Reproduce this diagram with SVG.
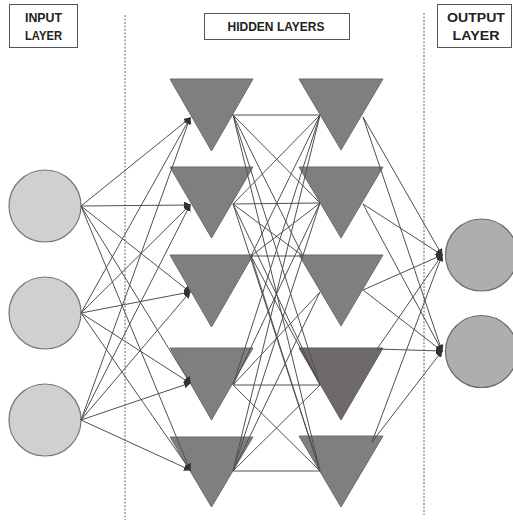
<svg xmlns="http://www.w3.org/2000/svg" width="513" height="520" viewBox="0 0 513 520">
<defs>
<style>
.box{fill:#fff;stroke:#555;stroke-width:1}
.lbl{font-family:"Liberation Sans",Arial,sans-serif;font-weight:bold;font-size:12px;fill:#222;text-anchor:middle}
.dash{stroke:#666;stroke-width:1;stroke-dasharray:2,1.5;fill:none}
.in{fill:#d1d0d0;stroke:#777;stroke-width:1.2}
.out{fill:#b0adad;stroke:#6a6a6a;stroke-width:1.2}
.tri{fill:#7f7f7f;stroke:#6c6c6c;stroke-width:1}
.tri4{fill:#6f6a6a;stroke:#5e5a5a;stroke-width:1}
.c{stroke:#505050;stroke-width:1;fill:none}
.a{stroke:#505050;stroke-width:1;fill:none;marker-end:url(#ah)}
</style>
<marker id="ah" markerUnits="userSpaceOnUse" markerWidth="7" markerHeight="7" refX="6" refY="3.5" orient="auto">
<path d="M0,0 L7,3.5 L0,7 z" fill="#333"/>
</marker>
</defs>
<rect width="513" height="520" fill="#fff"/>

<g id="labels">
<g id="input-label"><rect class="box" x="9.5" y="4.5" width="68" height="43"/><text class="lbl" x="43.5" y="22" textLength="37" lengthAdjust="spacingAndGlyphs">INPUT</text><text class="lbl" x="43.5" y="40" textLength="37" lengthAdjust="spacingAndGlyphs">LAYER</text></g>
<g id="hidden-label"><rect class="box" x="204.5" y="13.5" width="145" height="26"/><text class="lbl" x="276" y="31" textLength="97" lengthAdjust="spacingAndGlyphs">HIDDEN LAYERS</text></g>
<g id="output-label"><rect class="box" x="437.5" y="4.5" width="74" height="43"/><text class="lbl" x="476" y="22" textLength="58" lengthAdjust="spacingAndGlyphs">OUTPUT</text><text class="lbl" x="476" y="40" textLength="47" lengthAdjust="spacingAndGlyphs">LAYER</text></g>
</g>

<g id="dividers">
<line class="dash" x1="125" y1="15" x2="125" y2="520"/>
<line class="dash" x1="424" y1="13" x2="424" y2="515"/>
</g>

<g id="input-nodes">
<g id="in1"><circle class="in" cx="45" cy="206" r="36"/></g>
<g id="in2"><circle class="in" cx="45" cy="313" r="36"/></g>
<g id="in3"><circle class="in" cx="45" cy="420" r="36"/></g>
</g>

<g id="hidden1">
<g id="h1a"><polygon class="tri" points="170,79 253,79 211.5,151"/></g>
<g id="h1b"><polygon class="tri" points="170,167 253,167 211.5,238"/></g>
<g id="h1c"><polygon class="tri" points="170,255 253,255 211.5,327"/></g>
<g id="h1d"><polygon class="tri" points="170,348 253,348 211.5,420"/></g>
<g id="h1e"><polygon class="tri" points="170,437 253,437 211.5,507"/></g>
</g>

<g id="hidden2">
<g id="h2a"><polygon class="tri" points="299,79 383,79 341,150"/></g>
<g id="h2b"><polygon class="tri" points="299,167 383,167 341,238"/></g>
<g id="h2c"><polygon class="tri" points="299,255 383,255 341,326"/></g>
<g id="h2d"><polygon class="tri4" points="299,348 383,348 341,420"/></g>
<g id="h2e"><polygon class="tri" points="299,436 383,436 341,507"/></g>
</g>

<g id="output-nodes">
<g id="out1"><circle class="out" cx="481.5" cy="255" r="36"/></g>
<g id="out2"><circle class="out" cx="481.5" cy="351.5" r="36"/></g>
</g>

<g id="connectors">
<!-- input -> hidden 1 -->
<path class="a" d="M81,206 L190,118"/>
<path class="a" d="M81,206 L190,205"/>
<path class="a" d="M81,206 L190,292"/>
<path class="a" d="M81,206 L190,383"/>
<path class="a" d="M81,206 L190,470"/>
<path class="a" d="M81,313 L190,118"/>
<path class="a" d="M81,313 L190,205"/>
<path class="a" d="M81,313 L190,292"/>
<path class="a" d="M81,313 L190,383"/>
<path class="a" d="M81,313 L190,470"/>
<path class="a" d="M81,420 L190,118"/>
<path class="a" d="M81,420 L190,205"/>
<path class="a" d="M81,420 L190,292"/>
<path class="a" d="M81,420 L190,383"/>
<path class="a" d="M81,420 L190,470"/>
<!-- hidden 1 -> hidden 2 -->
<path class="c" d="M233,115 L320,115"/>
<path class="c" d="M233,115 L320,203"/>
<path class="c" d="M233,115 L303,256"/>
<path class="c" d="M233,115 L320,385"/>
<path class="c" d="M233,115 L320,471"/>
<path class="c" d="M233,204 L320,115"/>
<path class="c" d="M233,204 L320,203"/>
<path class="c" d="M233,204 L303,256"/>
<path class="c" d="M233,204 L320,385"/>
<path class="c" d="M233,204 L320,471"/>
<path class="c" d="M251,256 L320,115"/>
<path class="c" d="M251,256 L320,203"/>
<path class="c" d="M251,256 L303,256"/>
<path class="c" d="M251,256 L320,385"/>
<path class="c" d="M251,256 L320,471"/>
<path class="c" d="M233,385 L320,115"/>
<path class="c" d="M233,385 L320,203"/>
<path class="c" d="M233,385 L320,292"/>
<path class="c" d="M233,385 L320,385"/>
<path class="c" d="M233,385 L320,471"/>
<path class="c" d="M233,471 L320,115"/>
<path class="c" d="M233,471 L320,203"/>
<path class="c" d="M233,471 L320,292"/>
<path class="c" d="M233,471 L320,385"/>
<path class="c" d="M233,471 L320,471"/>
<!-- hidden 2 -> output -->
<path class="a" d="M363,117 L442,255"/>
<path class="a" d="M363,117 L442,351"/>
<path class="a" d="M363,204 L442,255"/>
<path class="a" d="M363,204 L442,351"/>
<path class="a" d="M363,290 L442,255"/>
<path class="a" d="M363,290 L442,351"/>
<path class="a" d="M377,349 L442,255"/>
<path class="a" d="M377,349 L442,351"/>
<path class="a" d="M372,442 L442,255"/>
<path class="a" d="M372,442 L442,351"/>
</g>
</svg>
